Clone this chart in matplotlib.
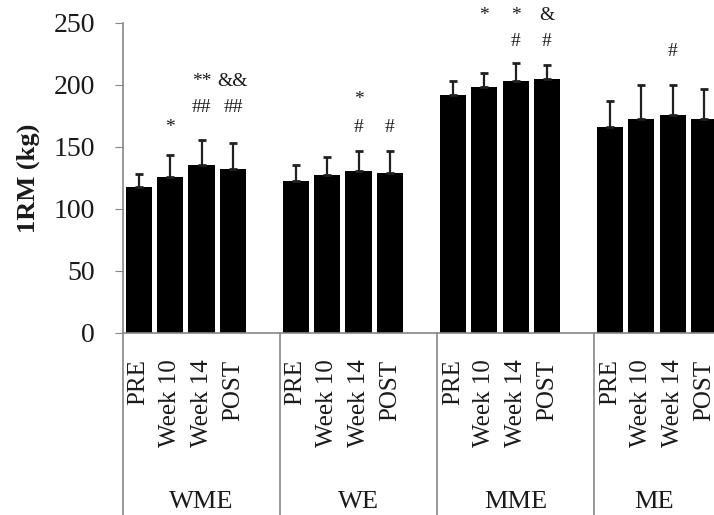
import matplotlib
matplotlib.use('Agg')
import matplotlib.pyplot as plt
import numpy as np

plt.rcParams['font.family'] = ['Liberation Serif', 'DejaVu Serif']

groups = ['WME', 'WE', 'MME', 'ME']
times = ['PRE', 'Week 10', 'Week 14', 'POST']

# mean and SD of 1RM (kg) per group, in the order of `times`
wme_mean = [117.5, 125.6, 135.4, 132.1]
wme_sd = [11.1, 17.8, 20.5, 20.8]
we_mean = [122.4, 127.3, 130.5, 128.9]
we_sd = [13.0, 14.3, 15.9, 17.5]
mme_mean = [192.0, 198.5, 203.3, 204.9]
mme_sd = [11.3, 11.3, 14.6, 11.4]
me_mean = [166.1, 172.6, 175.8, 172.6]
me_sd = [21.0, 27.2, 24.0, 24.0]

# significance marks: (group, time point, mark, height in kg)
marks = [
    (0, 1, '*', 166), (0, 2, '##', 182), (0, 2, '**', 203),
    (0, 3, '##', 182), (0, 3, '&&', 203),
    (1, 2, '#', 166), (1, 2, '*', 188), (1, 3, '#', 166),
    (2, 1, '*', 256), (2, 2, '#', 235), (2, 2, '*', 256),
    (2, 3, '#', 235), (2, 3, '&', 256),
    (3, 2, '#', 227),
]

means = [wme_mean, we_mean, mme_mean, me_mean]
sds = [wme_sd, we_sd, mme_sd, me_sd]
slots = 5  # 4 bars + one empty slot per group
xmax = 18.82  # chart is cut off on the right

fig = plt.figure(figsize=(7.14, 5.15), dpi=100)
ax = fig.add_axes([123/714, 1 - 333/515, 1 - 123/714, 310/515])

grey = '#868686'
txt = '#1a1a1a'
xs, labels = [], []
for g in range(len(groups)):
    x = np.arange(4) + g*slots + 0.5
    ax.bar(x, means[g], width=0.83, color='black', zorder=2)
    ax.errorbar(x, means[g], yerr=[np.zeros(4), sds[g]], fmt='none',
                ecolor='#202020', elinewidth=1.6, capsize=3, capthick=2, zorder=3)
    xs += list(x)
    labels += times

for g, i, m, y in marks:
    ax.text(g*slots + i + 0.5, y, m, ha='center', va='center',
            fontsize=14, color=txt, clip_on=False)

ax.set_xlim(0, xmax)
ax.set_ylim(0, 250)
ax.set_yticks(range(0, 251, 50))
ax.tick_params(axis='y', direction='out', length=6, color=grey,
               labelsize=20, labelcolor=txt, pad=14)
ax.set_xticks(xs)
ax.set_xticklabels(labels, rotation=90, va='top', ha='center')
ax.tick_params(axis='x', length=0, labelsize=18, labelcolor=txt, pad=19)

for s in ['top', 'right']:
    ax.spines[s].set_visible(False)
for s in ['left', 'bottom']:
    ax.spines[s].set_color(grey)
    ax.spines[s].set_linewidth(1.2)

# group separators and group names under the axis
tr = ax.get_xaxis_transform()
for g in range(len(groups)):
    ax.plot([g*slots, g*slots], [0, -0.59], transform=tr, color=grey,
            lw=1.2, clip_on=False)
    centre = g*slots + slots/2 if g < 3 else (g*slots + xmax)/2
    ax.text(centre, -0.545, groups[g], transform=tr, ha='center', va='center',
            fontsize=19, color=txt)

ax.set_ylabel('1RM (kg)', fontsize=19, fontweight='bold', color=txt, labelpad=10)

fig.savefig('out.png', dpi=100)
